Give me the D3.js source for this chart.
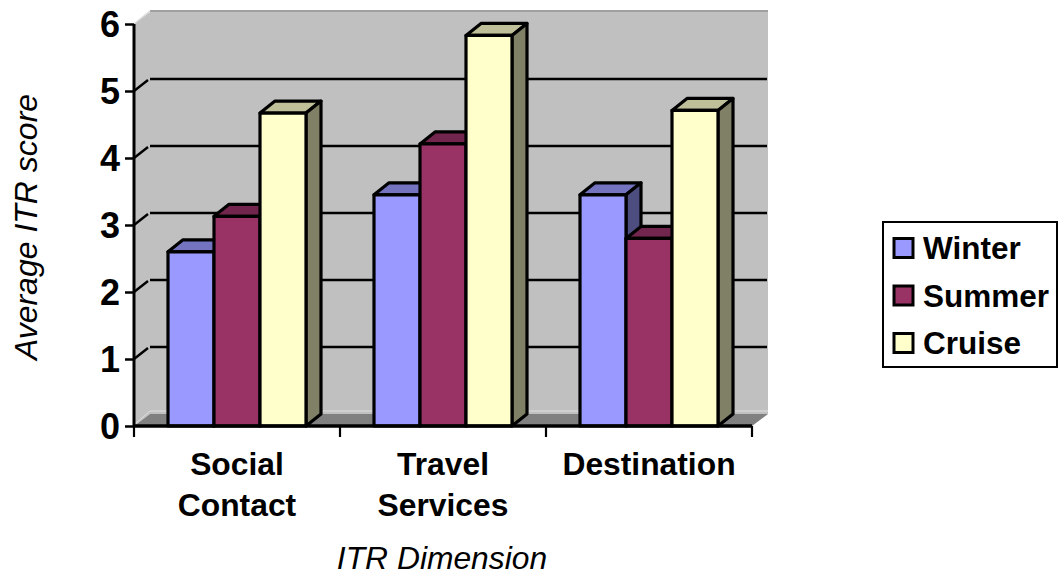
<!DOCTYPE html>
<html><head><meta charset="utf-8">
<script src="https://cdn.jsdelivr.net/npm/d3@7/dist/d3.min.js"></script>
<style>html,body{margin:0;padding:0;background:#fff}svg{display:block}text{font-family:"Liberation Sans",Arial,sans-serif;fill:#000}</style>
</head><body><svg id="c" width="1059" height="571"></svg>
<script>
const categories = [["Social","Contact"],["Travel","Services"],["Destination"]];
const seriesNames = ["Winter","Summer","Cruise"];
const winter = [2.6,3.45,3.45];
const summer = [3.13,4.21,2.8];
const cruise = [4.67,5.83,4.71];
const yTicks = [0,1,2,3,4,5,6];
const faceColors = ["#9999ff","#993366","#ffffcc"];
const topColors = ["#7373bf","#73264d","#bfbf99"];
const sideColors = ["#4d4d80","#4d1a33","#808066"];
const seriesValues = [winter,summer,cruise];

const svg = d3.select("#c");
const y = d3.scaleLinear().domain([0,6]).range([426,24]);
const x0 = d3.scaleBand().domain(d3.range(categories.length)).range([134,752]);
const x1 = d3.scaleBand().domain(d3.range(3)).range([34,172]);
const dx = 16, dy = 12;
const L = 134, R = 752;
const poly = (pts,fill,stroke,sw) => svg.append("path")
  .attr("d",d3.line()(pts)+"Z").attr("fill",fill).attr("stroke",stroke||"none").attr("stroke-width",sw||0).attr("stroke-linejoin","round");

// walls and floor
poly([[L,y(0)],[L+dx,y(0)-dy],[L+dx,y(6)-dy],[L,y(6)]],"#c0c0c0");
poly([[L+dx,y(0)-dy],[R+dx,y(0)-dy],[R+dx,y(6)-dy],[L+dx,y(6)-dy]],"#c0c0c0");
poly([[L,y(0)],[L+dx,y(0)-dy],[R+dx,y(0)-dy],[R,y(0)]],"#808080");
svg.append("path").attr("d",`M${L+dx},${y(6)-dy-1}H${R+dx}`).attr("stroke","#a0a0a0").attr("stroke-width",2).attr("fill","none");
svg.append("path").attr("d",`M${L},${y(6)}L${L+dx},${y(6)-dy-1}`).attr("stroke","#d8d8d8").attr("stroke-width",1.5).attr("fill","none");
svg.append("path").attr("d",`M${L},${y(0)-1}L${L+dx},${y(0)-dy-3}H${R+dx}`).attr("stroke","#e0e0e0").attr("stroke-width",1).attr("fill","none");

// gridlines
yTicks.filter(t=>t>0&&t<6).forEach(t=>{
  svg.append("path").attr("d",`M${L},${y(t)}L${L+dx-2},${y(t)-dy+1}M${L+dx},${y(t)-dy}H${R+dx-1}`)
    .attr("stroke","#000").attr("stroke-width",2.4).attr("fill","none");
});

// bars
categories.forEach((c,i)=>{
  seriesValues.forEach((vals,s)=>{
    const xl = x0(i)+x1(s), xr = xl+x1.bandwidth(), yt = y(vals[i]), yb = y(0);
    const dk = 15;
    poly([[xl,yt],[xl+dk,yt-dy],[xr+dk,yt-dy],[xr,yt]],topColors[s],"#000",3.2);
    poly([[xr,yt],[xr+dk,yt-dy],[xr+dk,yb-dy],[xr,yb]],sideColors[s],"#000",3.2);
    poly([[xl,yt],[xr,yt],[xr,yb],[xl,yb]],faceColors[s],"#000",3.2);
  });
});

// axes
const yAxis = d3.axisLeft(y).tickValues(yTicks).tickSize(10).tickPadding(3).tickFormat(d3.format("d"));
const gy = svg.append("g").attr("transform",`translate(${L},0)`).call(yAxis);
gy.select(".domain").attr("stroke-width",3).attr("d",`M0,${y(6)}V${y(0)}`);
gy.selectAll(".tick line").attr("stroke-width",2.5).attr("x2",-9);
gy.selectAll("text").attr("font-size",36).attr("font-weight","bold").attr("x",-14).attr("dy","0.36em");

const xTickVals = d3.range(categories.length+1).map(i=> i<categories.length ? x0(i) : R);
svg.append("path").attr("d",`M${L},${y(0)}H${R}`).attr("stroke","#000").attr("stroke-width",3.5);
xTickVals.forEach(v=>svg.append("path").attr("d",`M${v},${y(0)}v11`).attr("stroke","#000").attr("stroke-width",2.2));

categories.forEach((c,i)=>{
  const t = svg.append("text").attr("text-anchor","middle").attr("font-size",31.8).attr("font-weight","bold");
  c.forEach((ln,k)=>t.append("tspan").attr("x",x0(i)+x0.bandwidth()/2).attr("y",475+k*41).text(ln));
});

svg.append("text").attr("x",442).attr("y",569).attr("text-anchor","middle").attr("font-size",31.8).attr("font-style","italic").text("ITR Dimension");
svg.append("text").attr("transform","translate(37,227) rotate(-90)").attr("text-anchor","middle").attr("font-size",32).attr("font-style","italic").text("Average ITR score");

// legend
svg.append("rect").attr("x",883).attr("y",222).attr("width",174).attr("height",145).attr("fill","#fff").attr("stroke","#000").attr("stroke-width",2);
seriesNames.forEach((n,i)=>{
  const ly = 248+i*47.5;
  svg.append("rect").attr("x",894).attr("y",ly-9.5).attr("width",19).attr("height",19).attr("fill",faceColors[i]).attr("stroke","#000").attr("stroke-width",3);
  svg.append("text").attr("x",923).attr("y",ly+11).attr("font-size",31.5).attr("font-weight","bold").text(n);
});
</script></body></html>
